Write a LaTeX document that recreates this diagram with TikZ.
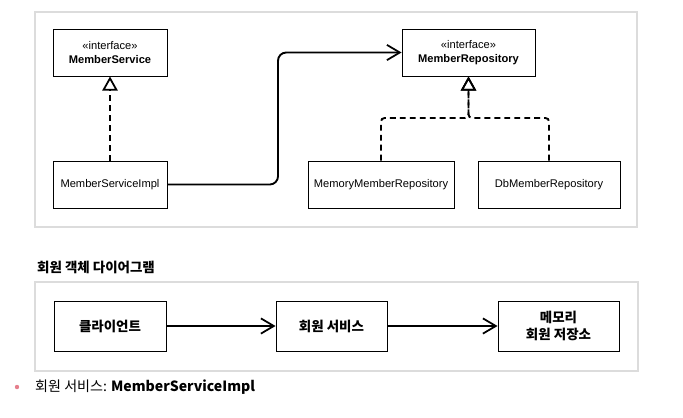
\documentclass[tikz,border=0pt]{standalone}
\usepackage{fontspec}
\setmainfont{Liberation Sans}
\newfontfamily\kr{Noto Sans CJK KR}
\usetikzlibrary{arrows.meta}
\definecolor{FrameGray}{HTML}{DCDCDC}
\definecolor{BulletPink}{HTML}{E57F8C}
\tikzstyle{ClassNode}=[rectangle, draw=black, line width=0.8pt, minimum height=1.41cm, inner sep=2pt, align=center, font=\fontsize{9.5}{11.5}\selectfont]
\tikzstyle{ObjNode}=[ClassNode, minimum height=1.5cm, font=\kr\bfseries\fontsize{11.5}{14}\selectfont]
\tikzstyle{DepEdge}=[-{Straight Barb[length=11pt, width=13pt, line width=1.5pt]}, line width=1.6pt]
\tikzstyle{RealEdge}=[-{Triangle[open, length=12pt, width=13pt, line width=1.5pt]}, line width=1.6pt, dash pattern=on 5pt off 3.5pt, rounded corners=3pt]
\tikzstyle{FrameBox}=[draw=FrameGray, line width=1pt]
\begin{document}
\begin{tikzpicture}[x=0.03cm, y=-0.03cm]
\useasboundingbox (0,0) rectangle (683,417);

% class diagram
\draw[FrameBox] (35,12) rectangle (637,227);
\node[ClassNode, minimum width=3.42cm](MemSvc) at (110,52.5) {\guillemotleft interface\guillemotright\\\textbf{MemberService}};
\node[ClassNode, minimum width=3.42cm](MemSvcImpl) at (110,184.5) {MemberServiceImpl};
\node[ClassNode, minimum width=3.99cm](MemRepo) at (468.5,52.5) {\guillemotleft interface\guillemotright\\\textbf{MemberRepository}};
\node[ClassNode, minimum width=4.38cm](MemoryRepo) at (381,184.5) {MemoryMemberRepository};
\node[ClassNode, minimum width=4.26cm](DbRepo) at (549,184.5) {DbMemberRepository};
\coordinate (bend) at (278,118);
\coordinate (joint) at (468.5,118);

\draw[RealEdge](MemSvcImpl) -- (MemSvc);
\draw[DepEdge, rounded corners=7pt](MemSvcImpl.east) -| (bend) |- (MemRepo.west);
\draw[RealEdge](MemoryRepo.north) |- (joint) -- (MemRepo.south);
\draw[RealEdge](DbRepo.north) |- (joint) -- (MemRepo.south);

% object diagram
\node[anchor=west, font=\kr\bfseries\fontsize{11.5}{14}\selectfont](ObjTitle) at (33,267) {회원 객체 다이어그램};
\draw[FrameBox] (35,282) rectangle (638,371);
\node[ObjNode, minimum width=3.36cm](Client) at (110,326) {클라이언트};
\node[ObjNode, minimum width=3.33cm](Service) at (331.5,326) {회원 서비스};
\node[ObjNode, minimum width=3.63cm](Store) at (558.5,326) {메모리\\회원 저장소};

\draw[DepEdge](Client) -- (Service);
\draw[DepEdge](Service) -- (Store);

% note
\fill[BulletPink] (17,387) circle (2.2);
\node[anchor=west, inner sep=0pt, font=\kr\fontsize{12}{14}\selectfont](Note) at (35,387) {회원 서비스: \textbf{MemberServiceImpl}};
\end{tikzpicture}
\end{document}
